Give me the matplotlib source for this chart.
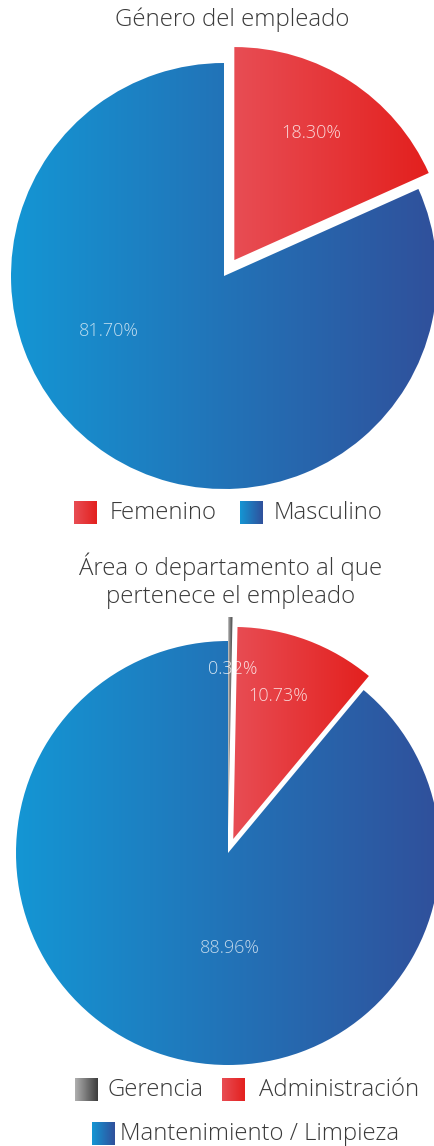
import numpy as np
import matplotlib
matplotlib.use("Agg")
import matplotlib.pyplot as plt
from matplotlib.colors import LinearSegmentedColormap

plt.rcParams['font.family'] = ['Open Sans', 'DejaVu Sans']

# data
gender_labels = ['Femenino', 'Masculino']
gender_pct = [18.30, 81.70]
area_labels = ['Gerencia', 'Administración', 'Mantenimiento / Limpieza']
area_pct = [0.32, 10.73, 88.96]

W, H = 435, 1146
TXT = '#3a3a3a'

# gradient colour pairs (left -> right)
red = LinearSegmentedColormap.from_list('red', ['#e84d54', '#e3201e'])
blue = LinearSegmentedColormap.from_list('blue', ['#1496d4', '#30509b'])
grey = LinearSegmentedColormap.from_list('grey', ['#b0b0b0', '#3c3c3c'])
ramp = np.linspace(0, 1, 256).reshape(1, -1)

fig = plt.figure(figsize=(W / 100, H / 100), dpi=100)
ax = fig.add_axes([0, 0, 1, 1])


def grad_fill(patch, cmap):
    bb = patch.get_path().get_extents()
    im = ax.imshow(ramp, cmap=cmap, extent=(bb.x0, bb.x1, bb.y0, bb.y1),
                   aspect='auto', interpolation='bicubic', zorder=2)
    im.set_clip_path(patch)


def draw_pie(values, cmaps, center, radius, explode, label_pos):
    wedges, _, autotexts = ax.pie(values, center=center, radius=radius,
                                  startangle=90, counterclock=False,
                                  explode=explode, autopct='%.2f%%',
                                  wedgeprops=dict(linewidth=0))
    for w, cm in zip(wedges, cmaps):
        w.set_facecolor('none')
        grad_fill(w, cm)
    for t, v, (px, py, a) in zip(autotexts, values, label_pos):
        t.set_text(f'{v:.2f}%')
        t.set_position((px, H - py))
        t.set(color='white', alpha=a, fontsize=13, fontweight='light',
              zorder=5, ha='center', va='center')


def legend_row(items, y):
    for name, cm, sx, tx in items:
        ax.imshow(ramp, cmap=cm, extent=(sx, sx + 23, H - y - 11.5, H - y + 11.5),
                  aspect='auto', interpolation='bicubic', zorder=2)
        ax.text(tx, H - y, name, fontsize=17.2, fontweight='light', color=TXT,
                ha='left', va='center')


# pie 1: gender
ax.text(232, H - 20, 'Género del empleado', fontsize=17.3, fontweight='light',
        color=TXT, ha='center', va='center')
draw_pie(gender_pct, [red, blue], (224, H - 276), 213, [19, 0],
         [(311, 133, 0.8), (109, 331, 0.72)])
legend_row([(gender_labels[0], red, 74, 110),
            (gender_labels[1], blue, 240, 274)], 513)

# pie 2: area
ax.text(231, H - 581, 'Área o departamento al que\npertenece el empleado',
        fontsize=17.3, fontweight='light', color=TXT, ha='center', va='center',
        linespacing=1.2)
draw_pie(area_pct, [grey, red, blue], (228, H - 853), 212, [24, 15, 0],
         [(233, 669, 0.8), (278, 696, 0.8), (230, 948, 0.72)])
legend_row([(area_labels[0], grey, 75, 108),
            (area_labels[1], red, 222, 259)], 1090)
legend_row([(area_labels[2], blue, 92, 120)], 1134)

ax.set_xlim(0, W)
ax.set_ylim(0, H)
ax.set_axis_off()
fig.savefig('out.png', dpi=100)
